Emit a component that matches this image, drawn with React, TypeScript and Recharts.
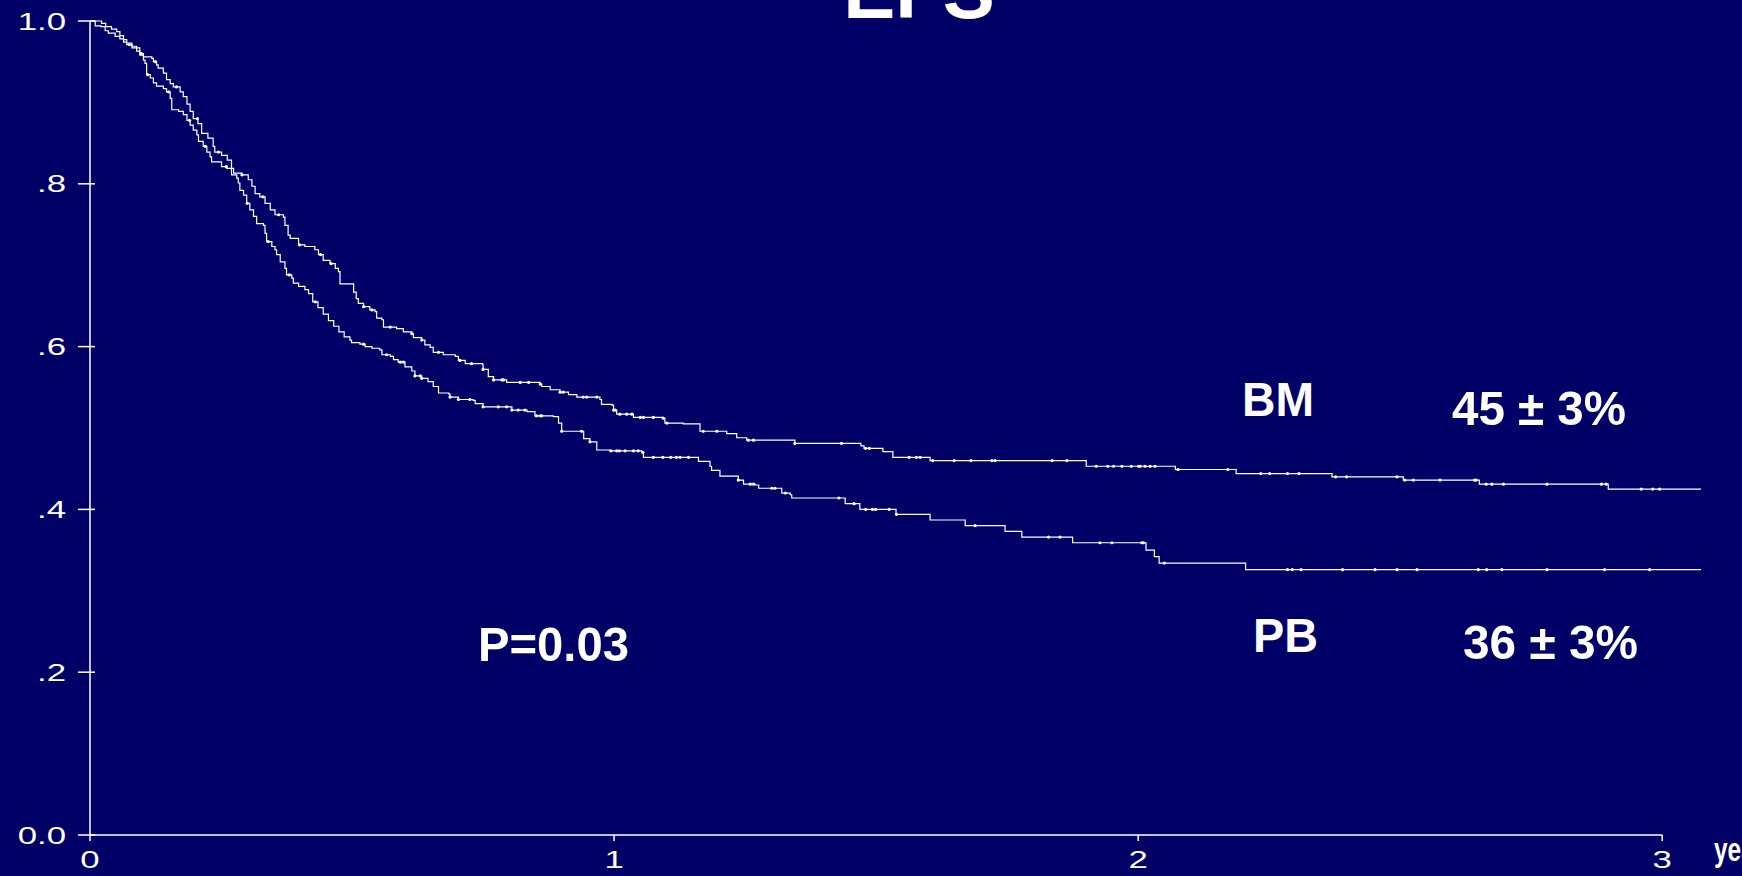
import React from 'react';
import { LineChart, Line, XAxis, YAxis, ReferenceLine } from 'recharts';

// Kaplan-Meier steps (time in years, survival after the drop)
const bmTimes = [
  0, 0.022, 0.03, 0.041, 0.051, 0.057, 0.064, 0.07, 0.08, 0.089, 0.095, 0.102, 0.118, 0.121, 0.127, 0.13,
  0.14, 0.146, 0.153, 0.159, 0.172, 0.178, 0.185, 0.191, 0.197, 0.206, 0.213, 0.225, 0.235, 0.238, 0.251,
  0.262, 0.27, 0.274, 0.29, 0.302, 0.309, 0.315, 0.324, 0.334, 0.344, 0.353, 0.369, 0.372, 0.378, 0.382,
  0.398, 0.41, 0.429, 0.436, 0.445, 0.458, 0.468, 0.474, 0.477, 0.503, 0.508, 0.512, 0.522, 0.534, 0.544,
  0.547, 0.557, 0.56, 0.585, 0.598, 0.614, 0.617, 0.633, 0.639, 0.649, 0.655, 0.674, 0.697, 0.703, 0.716,
  0.749, 0.75, 0.76, 0.77, 0.795, 0.859, 0.862, 0.878, 0.897, 0.913, 0.929, 0.973, 0.976, 0.996, 0.999,
  1.005, 1.037, 1.094, 1.097, 1.132, 1.164, 1.215, 1.234, 1.253, 1.345, 1.471, 1.477, 1.513, 1.532, 1.603,
  1.901, 2.071, 2.187, 2.37, 2.506, 2.651, 2.897, 3.074,
];
const bmSurvival = [
  1.0, 0.997, 0.993, 0.99, 0.987, 0.982, 0.977, 0.973, 0.969, 0.967, 0.96, 0.956, 0.954, 0.95, 0.946, 0.942,
  0.936, 0.928, 0.923, 0.919, 0.913, 0.907, 0.898, 0.889, 0.88, 0.874, 0.862, 0.856, 0.846, 0.839, 0.835,
  0.829, 0.819, 0.813, 0.811, 0.805, 0.797, 0.788, 0.784, 0.776, 0.768, 0.762, 0.759, 0.749, 0.737, 0.733,
  0.725, 0.723, 0.719, 0.713, 0.706, 0.702, 0.696, 0.692, 0.677, 0.667, 0.659, 0.653, 0.649, 0.645, 0.643,
  0.635, 0.633, 0.624, 0.622, 0.618, 0.616, 0.611, 0.608, 0.602, 0.599, 0.593, 0.59, 0.588, 0.583, 0.579,
  0.578, 0.572, 0.563, 0.559, 0.556, 0.554, 0.551, 0.547, 0.544, 0.541, 0.538, 0.535, 0.529, 0.528, 0.522,
  0.517, 0.513, 0.512, 0.506, 0.505, 0.496, 0.493, 0.488, 0.485, 0.481, 0.478, 0.475, 0.471, 0.464, 0.46,
  0.453, 0.449, 0.444, 0.44, 0.436, 0.431, 0.425, 0.425,
];
const bmCensored = [
  0.098, 0.125, 0.165, 0.205, 0.245, 0.29, 0.33, 0.36, 0.4, 0.44, 0.46,
  0.522, 0.538, 0.573, 0.614, 0.633, 0.665, 0.706, 0.728, 0.75, 0.77, 0.786, 0.789, 0.821, 0.837, 0.859,
  0.897, 0.903, 0.941, 0.948, 0.967, 0.999, 1.002, 1.011, 1.024, 1.034, 1.05, 1.056, 1.075, 1.094, 1.101,
  1.17, 1.196, 1.256, 1.266, 1.345, 1.434, 1.48, 1.487, 1.563, 1.577, 1.584, 1.608, 1.649, 1.681, 1.721,
  1.727, 1.836, 1.864, 1.92, 1.942, 1.953, 1.969, 1.987, 2.001, 2.004, 2.013, 2.023, 2.032, 2.076, 2.171,
  2.234, 2.251, 2.285, 2.307, 2.377, 2.398, 2.494, 2.509, 2.525, 2.576, 2.642, 2.645, 2.664, 2.675, 2.697,
  2.78, 2.884, 2.893, 2.96, 2.982, 2.995,
];

const pbTimes = [
  0, 0.01, 0.021, 0.029, 0.035, 0.048, 0.057, 0.064, 0.07, 0.08, 0.089, 0.095, 0.102, 0.105, 0.108, 0.115,
  0.121, 0.127, 0.14, 0.146, 0.153, 0.156, 0.169, 0.178, 0.185, 0.191, 0.197, 0.204, 0.207, 0.216, 0.223,
  0.229, 0.232, 0.251, 0.261, 0.27, 0.28, 0.283, 0.286, 0.293, 0.299, 0.305, 0.312, 0.318, 0.331, 0.334,
  0.337, 0.347, 0.353, 0.356, 0.363, 0.372, 0.375, 0.385, 0.388, 0.398, 0.41, 0.417, 0.425, 0.435, 0.445,
  0.455, 0.465, 0.475, 0.485, 0.496, 0.499, 0.515, 0.525, 0.538, 0.553, 0.557, 0.573, 0.579, 0.588, 0.601,
  0.614, 0.62, 0.633, 0.645, 0.655, 0.665, 0.684, 0.687, 0.703, 0.731, 0.735, 0.75, 0.805, 0.834, 0.849,
  0.884, 0.894, 0.9, 0.942, 0.954, 0.967, 0.992, 1.053, 1.056, 1.161, 1.183, 1.186, 1.202, 1.237, 1.247,
  1.269, 1.276, 1.32, 1.336, 1.339, 1.441, 1.469, 1.538, 1.603, 1.67, 1.746, 1.778, 1.875, 2.015, 2.031,
  2.04, 2.205, 3.074,
];
const pbSurvival = [
  1.0, 0.994, 0.993, 0.988, 0.985, 0.981, 0.978, 0.974, 0.971, 0.967, 0.963, 0.958, 0.952, 0.948, 0.934, 0.93,
  0.924, 0.92, 0.917, 0.913, 0.905, 0.891, 0.889, 0.885, 0.878, 0.872, 0.866, 0.86, 0.852, 0.846, 0.839,
  0.833, 0.827, 0.821, 0.819, 0.811, 0.807, 0.801, 0.792, 0.786, 0.776, 0.768, 0.76, 0.751, 0.749, 0.739,
  0.729, 0.723, 0.719, 0.713, 0.704, 0.696, 0.688, 0.684, 0.678, 0.674, 0.67, 0.665, 0.655, 0.648, 0.64,
  0.632, 0.625, 0.618, 0.612, 0.608, 0.605, 0.603, 0.6, 0.598, 0.596, 0.59, 0.588, 0.584, 0.581, 0.575,
  0.57, 0.564, 0.561, 0.557, 0.551, 0.543, 0.542, 0.538, 0.535, 0.534, 0.53, 0.526, 0.522, 0.52, 0.515,
  0.514, 0.506, 0.496, 0.487, 0.483, 0.473, 0.472, 0.47, 0.464, 0.459, 0.453, 0.448, 0.441, 0.436, 0.431,
  0.43, 0.426, 0.42, 0.418, 0.414, 0.407, 0.4, 0.394, 0.387, 0.38, 0.373, 0.366, 0.359, 0.35, 0.342,
  0.334, 0.326, 0.326,
];
const pbCensored = [
  0.075, 0.11, 0.15, 0.19, 0.22, 0.26, 0.3, 0.34, 0.38, 0.43,
  0.522, 0.566, 0.592, 0.598, 0.62, 0.63, 0.633, 0.687, 0.703, 0.725, 0.75, 0.779, 0.795, 0.805, 0.817,
  0.83, 0.852, 0.859, 0.862, 0.9, 0.938, 0.954, 0.994, 1.005, 1.01, 1.021, 1.037, 1.046, 1.055, 1.075,
  1.093, 1.108, 1.119, 1.126, 1.142, 1.237, 1.26, 1.266, 1.301, 1.307, 1.327, 1.429, 1.458, 1.48, 1.493,
  1.499, 1.525, 1.539, 1.689, 1.829, 1.851, 1.927, 1.95, 2.007, 2.01, 2.05, 2.285, 2.294, 2.311, 2.39,
  2.452, 2.494, 2.532, 2.649, 2.665, 2.694, 2.78, 2.89, 2.976,
];

const xTicks = [0, 1, 2, 3];
const yTicks = [0, 0.2, 0.4, 0.6, 0.8, 1];
const yTickLabels = ['0.0', '.2', '.4', '.6', '.8', '1.0'];
const followUpEnd = bmTimes[bmTimes.length - 1];

const BG = '#000066';
const FONT = '"Liberation Sans", Arial, Helvetica, sans-serif';

// merge the drops with the censoring marks (a censored patient keeps the current level)
const buildCurve = (times: number[], surv: number[], censored: number[]) => {
  const pts = times.map((t, i) => ({ t, v: surv[i], c: false }));
  censored.forEach((t) => {
    let v = surv[0];
    times.forEach((tt, i) => {
      if (tt <= t) v = surv[i];
    });
    pts.push({ t, v, c: true });
  });
  return pts.sort((a, b) => a.t - b.t);
};

const bmData = buildCurve(bmTimes, bmSurvival, bmCensored);
const pbData = buildCurve(pbTimes, pbSurvival, pbCensored);

const renderYTick = (props: any) => {
  const { x, y, payload } = props;
  const idx = yTicks.indexOf(payload.value);
  const label = idx >= 0 ? yTickLabels[idx] : String(payload.value);
  return (
    <g>
      <line x1={x} x2={x + 17} y1={y} y2={y} stroke="#fff" strokeWidth={1.5} />
      <text
        transform={`translate(${x - 12},${y + 8.5}) scale(1.45,1)`}
        textAnchor="end"
        fill="#fff"
        fontFamily={FONT}
        fontSize={24}
      >
        {label}
      </text>
    </g>
  );
};

const renderXTick = (props: any) => {
  const { x, y, payload } = props;
  return (
    <g>
      <line x1={x} x2={x} y1={y - 6} y2={y} stroke="#fff" strokeWidth={1.5} />
      <text
        transform={`translate(${x},${y + 27}) scale(1.45,1)`}
        textAnchor="middle"
        fill="#fff"
        fontFamily={FONT}
        fontSize={24}
      >
        {payload.value}
      </text>
    </g>
  );
};

const censorDot = (props: any) => {
  const { cx, cy, payload, index } = props;
  if (!payload || !payload.c) return <g key={`n-${index}`} />;
  return <circle key={`c-${index}`} cx={cx} cy={cy} r={1.6} fill="#fff" />;
};

const boldText = {
  fill: '#fff',
  fontFamily: FONT,
  fontWeight: 700 as const,
  fontSize: 49,
};

export default function App() {
  return (
    <div
      style={{
        position: 'fixed',
        left: 0,
        top: 0,
        width: 1742,
        height: 876,
        background: BG,
        overflow: 'hidden',
      }}
    >
      <LineChart
        width={1742}
        height={876}
        margin={{ top: 21, right: 41, bottom: 11, left: 0 }}
      >
        <XAxis
          type="number"
          dataKey="t"
          domain={[0, followUpEnd]}
          ticks={xTicks}
          height={30}
          axisLine={false}
          tickLine={false}
          tickSize={6}
          tickMargin={0}
          tick={renderXTick}
          allowDataOverflow
        />
        <YAxis
          type="number"
          dataKey="v"
          domain={[0, 1]}
          ticks={yTicks}
          width={90}
          axisLine={{ stroke: '#fff', strokeWidth: 1.5 }}
          tickLine={false}
          tickSize={12}
          tickMargin={0}
          tick={renderYTick}
        />
        <ReferenceLine
          segment={[{ x: 0, y: 0 }, { x: 3, y: 0 }]}
          stroke="#fff"
          strokeWidth={1.5}
          ifOverflow="visible"
        />
        <Line
          data={pbData}
          dataKey="v"
          name="PB"
          type="stepAfter"
          stroke="#fff"
          strokeWidth={1.2}
          dot={censorDot}
          activeDot={false}
          isAnimationActive={false}
        />
        <Line
          data={bmData}
          dataKey="v"
          name="BM"
          type="stepAfter"
          stroke="#fff"
          strokeWidth={1.2}
          dot={censorDot}
          activeDot={false}
          isAnimationActive={false}
        />
      </LineChart>

      <svg
        width={1742}
        height={876}
        style={{ position: 'absolute', left: 0, top: 0, pointerEvents: 'none' }}
      >
        <text x={919} y={18} textAnchor="middle" fill="#fff" fontFamily={FONT} fontWeight={700} fontSize={78}>
          EFS
        </text>
        <text x={1242} y={416} {...boldText} textLength={72} lengthAdjust="spacingAndGlyphs">BM</text>
        <text x={1452} y={425} {...boldText} textLength={174} lengthAdjust="spacingAndGlyphs">45 ± 3%</text>
        <text x={1253} y={652} {...boldText} textLength={65} lengthAdjust="spacingAndGlyphs">PB</text>
        <text x={1463} y={659} {...boldText} textLength={175} lengthAdjust="spacingAndGlyphs">36 ± 3%</text>
        <text x={478} y={661} {...boldText} textLength={151} lengthAdjust="spacingAndGlyphs">P=0.03</text>
        <text
          transform="translate(1714,861) scale(0.72,1)"
          fill="#fff"
          fontFamily={FONT}
          fontWeight={700}
          fontSize={34}
        >
          years
        </text>
      </svg>
    </div>
  );
}
